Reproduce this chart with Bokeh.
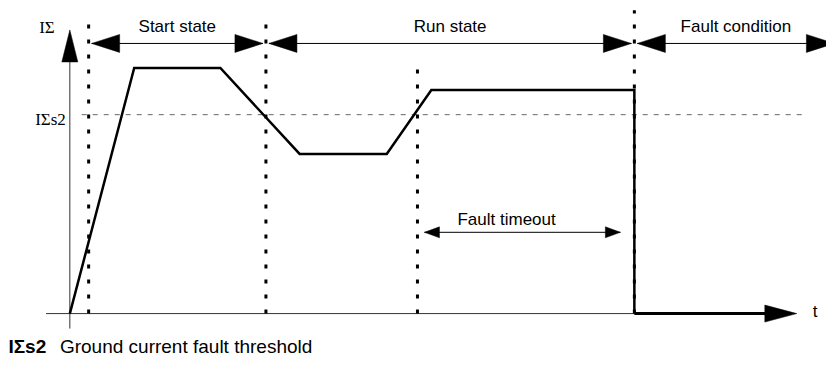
from bokeh.plotting import figure
from bokeh.models import Range1d
from bokeh.core.properties import value
from bokeh.embed import file_html
from bokeh.resources import INLINE

# ---- data (time in arbitrary units, ground current IΣ in % of peak) ----
curve_t = [0.0, 6.5, 15.2, 23.2, 32.0, 36.5, 57.0, 57.0]
curve_i = [0.0, 100.0, 100.0, 65.0, 65.0, 91.0, 91.0, 0.0]
threshold_i = 81.0                      # IΣs2
state_names = ["Start state", "Run state", "Fault condition"]
state_start = [1.9, 19.8, 57.0]         # vertical boundaries of the states
state_end = [19.8, 57.0, 77.5]
timeout_start = 35.1                    # start of the fault timeout
timeout_end = 57.0                      # trip
t_axis_end = 73.4
i_axis_end = 115.5
labels_axis = ["IΣ", "t"]
threshold_label = "IΣs2"
footer_bold = "IΣs2"
footer_text = "Ground current fault threshold"

# ---- layout ----
W, H = 826, 362
X0, X1 = -7.0, 76.4
Y0, Y1 = -19.92, 127.49
PX_T = W / (X1 - X0)
PX_I = H / (Y1 - Y0)

p = figure(width=W, height=H, output_backend="svg", toolbar_location=None,
           x_range=Range1d(X0, X1), y_range=Range1d(Y0, Y1),
           min_border=0, outline_line_color=None)
p.axis.visible = False
p.grid.visible = False
p.background_fill_color = "white"


def head(tip_t, tip_i, dx, dy, length_px, half_px):
    # triangle arrow head pointing in direction (dx, dy)
    bt = tip_t - dx * length_px / PX_T
    bi = tip_i - dy * length_px / PX_I
    px, py = -dy, dx
    xs = [tip_t, bt + px * half_px / PX_T, bt - px * half_px / PX_T]
    ys = [tip_i, bi + py * half_px / PX_I, bi - py * half_px / PX_I]
    return xs, ys


heads_x, heads_y = [], []

# axes
gap_t = 2.4
p.segment(x0=[-gap_t], y0=[0], x1=[t_axis_end - 30 / PX_T], y1=[0], line_color="#333333", line_width=1)
p.segment(x0=[0], y0=[-15 / PX_I], x1=[0], y1=[i_axis_end - 30 / PX_I], line_color="#333333", line_width=1)
hx, hy = head(0, i_axis_end, 0, 1, 32, 8)
heads_x.append(hx); heads_y.append(hy)
hx, hy = head(t_axis_end, 0, 1, 0, 32, 8.5)
heads_x.append(hx); heads_y.append(hy)
# thick axis part after trip
p.segment(x0=[timeout_end], y0=[0], x1=[t_axis_end - 30 / PX_T], y1=[0], line_color="black", line_width=3)

# threshold
p.segment(x0=[1.2], y0=[threshold_i], x1=[74.0], y1=[threshold_i],
          line_color="#666666", line_width=1, line_dash="5 6")

# dotted boundaries
bx = [state_start[0], state_start[1], timeout_start, timeout_end]
btop = [118.0, 118.0, 102.0, 123.5]
p.segment(x0=bx, y0=[0] * 4, x1=bx, y1=btop, line_color="black",
          line_width=3, line_dash="4 11", line_cap="butt")

# current curve
p.line(curve_t, curve_i, line_color="black", line_width=2.5, line_join="miter")

# state arrows
arrow_i = 110.0
g = 3 / PX_T
for s, e in zip(state_start, state_end):
    a, b = s + g, e - g
    p.segment(x0=[a], y0=[arrow_i], x1=[b], y1=[arrow_i], line_color="black", line_width=1)
    for tip, d in ((a, -1), (b, 1)):
        hx, hy = head(tip, arrow_i, d, 0, 28, 9)
        heads_x.append(hx); heads_y.append(hy)

# fault timeout arrow
to_i = 33.1
a, b = timeout_start + 7 / PX_T, timeout_end - 14 / PX_T
p.segment(x0=[a], y0=[to_i], x1=[b], y1=[to_i], line_color="black", line_width=1)
for tip, d in ((a, -1), (b, 1)):
    hx, hy = head(tip, to_i, d, 0, 15, 5.5)
    heads_x.append(hx); heads_y.append(hy)

p.patches(heads_x, heads_y, fill_color="black", line_color="black", line_width=0.5)

sans = value("Liberation Sans")
serif = value("Liberation Serif")
fs = "17px"

# state labels
lab_t = [(s + e) / 2 for s, e in zip(state_start, state_end)]
p.text(x=lab_t, y=[117.0] * 3, text=state_names, text_font=sans, text_font_size=fs,
       text_align="center", text_baseline="alphabetic", text_color="black")
p.text(x=[44.1], y=[38.3], text=["Fault timeout"], text_font=sans, text_font_size=fs,
       text_align="center", text_baseline="alphabetic", text_color="black")
p.text(x=[75.0], y=[0.8], text=[labels_axis[1]], text_font=sans, text_font_size=fs,
       text_align="left", text_baseline="alphabetic", text_color="black")

# serif labels
p.text(x=[-3.1], y=[116.5], text=[labels_axis[0]], text_font=serif, text_font_size=fs,
       text_align="left", text_baseline="alphabetic", text_color="black")
p.text(x=[-0.4], y=[threshold_i - 2.0], text=[threshold_label], text_font=serif, text_font_size=fs,
       text_align="right", text_baseline="alphabetic", text_color="black")

# footer
p.text(x=[-6.2], y=[-13.6], text=[footer_bold], text_font=sans, text_font_size="19px",
       text_font_style="bold", text_align="left", text_baseline="alphabetic", text_color="black")
p.text(x=[-1.0], y=[-13.6], text=[footer_text], text_font=sans, text_font_size="19px",
       text_align="left", text_baseline="alphabetic", text_color="black")

open("out.html", "w").write(file_html(p, INLINE))
